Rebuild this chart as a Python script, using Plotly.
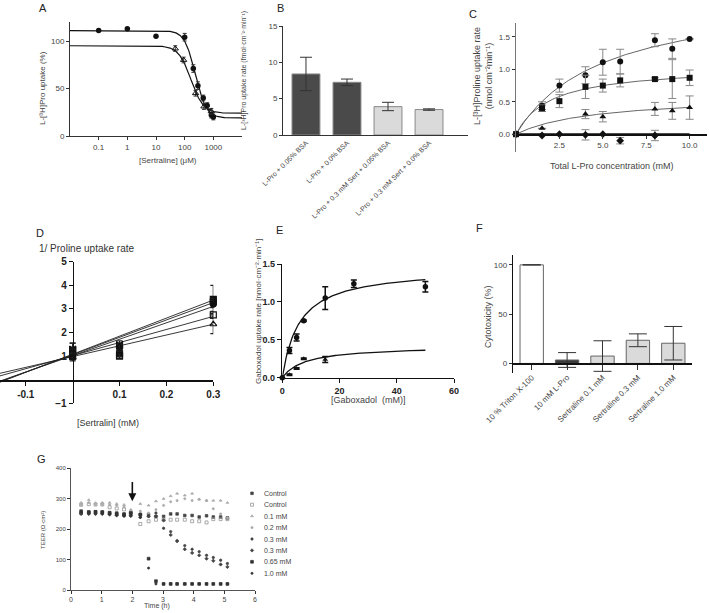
import plotly.graph_objects as go
import numpy as np

W, H = 709, 613
FONT = "Arial, Liberation Sans, sans-serif"
TXT = "#444"

# ---------------- Panel A data ----------------
a_circ_x = [0.1, 1, 10, 100, 200, 290, 445, 610, 850, 1000]
a_circ_y = [111, 113, 105, 104, 71, 53, 40, 32, 22, 20]
a_circ_err = [0, 0, 0, 4, 4, 4, 3, 3, 3, 3]
a_tri_x = [47, 92, 240, 470, 850]
a_tri_y = [92, 80, 45, 31, 26]
a_tri_err = [3, 3, 3, 3, 3]
a_fit_circ = {"top": 111, "bottom": 19, "ic50": 235, "hill": 2.3}
a_fit_tri = {"top": 95, "bottom": 24, "ic50": 165, "hill": 2.0}

# ---------------- Panel B data ----------------
b_labels = ["L-Pro + 0.05% BSA", "L-Pro + 0.0% BSA",
            "L-Pro + 0.3 mM Sert + 0.05% BSA", "L-Pro + 0.3 mM Sert + 0.0% BSA"]
b_values = [8.4, 7.25, 3.9, 3.5]
b_err_up = [2.3, 0.45, 0.6, 0.1]
b_err_dn = [2.3, 0.45, 0.55, 0.1]

# ---------------- Panel C data ----------------
c_x = [0, 1.5, 2.5, 4, 5, 6, 8, 9, 10]
c_circ = [0, 0.44, 0.75, 0.91, 1.11, 1.12, 1.45, 1.32, 1.47]
c_circ_err = [0, 0.06, 0.1, 0.13, 0.2, 0.19, 0.1, 0.15, 0]
c_sq = [0, 0.40, 0.51, 0.73, 0.75, 0.83, 0.85, 0.85, 0.87]
c_sq_err = [0, 0.05, 0.1, 0.18, 0.1, 0.1, 0.02, 0.3, 0.12]
c_tri_x = [0, 1.5, 4, 5, 8, 9, 10]
c_tri = [0, 0.09, 0.31, 0.27, 0.39, 0.36, 0.41]
c_tri_err = [0, 0, 0.07, 0.08, 0.1, 0.13, 0.18]
c_dia_x = [0, 1.5, 2.5, 4, 5, 6, 8]
c_dia = [0, -0.02, 0, -0.01, 0, -0.1, -0.02]
c_dia_err = [0, 0, 0, 0.08, 0, 0.05, 0.08]
c_fit_circ = {"vmax": 2.2, "km": 5.0}
c_fit_sq = {"vmax": 1.05, "km": 2.0}
c_fit_tri = {"vmax": 0.6, "km": 4.5}

# ---------------- Panel D data ----------------
d_x = [0, 0.1, 0.3]
d_series = {
    "square": ([1.25, 1.1, 3.4], [0.3, 0.2, 0.6]),
    "bowtie": ([1.3, 1.5, 3.3], [0.25, 0.15, 0.15]),
    "circle": ([1.1, 1.35, 3.2], [0.2, 0.15, 0.15]),
    "square-open": ([1.0, 1.0, 2.75], [0.15, 0.1, 0.15]),
    "triangle-up-open": ([0.95, 1.4, 2.35], [0.15, 0.1, 0.4]),
}
d_intercepts = [1.08, 1.06, 1.02, 1.02, 0.98]
d_slopes = [7.65, 7.36, 6.95, 5.54, 4.57]

# ---------------- Panel E data ----------------
e_circ_x = [0, 2.5, 5, 7.5, 15, 25, 50]
e_circ_y = [0, 0.36, 0.53, 0.75, 1.05, 1.24, 1.2]
e_circ_err = [0, 0.04, 0.045, 0.01, 0.15, 0.05, 0.07]
e_tri_x = [2.5, 5, 7.5, 15]
e_tri_y = [0.04, 0.12, 0.25, 0.24]
e_tri_err = [0.01, 0.01, 0.01, 0.04]
e_fit_circ = {"vmax": 1.45, "km": 6.0}
e_fit_tri = {"vmax": 0.42, "km": 8.0}

# ---------------- Panel F data ----------------
f_labels = ["10 % Triton X-100", "10 mM L-Pro", "Sertraline 0.1 mM",
            "Sertraline 0.3 mM", "Sertraline 1.0 mM"]
f_values = [100, 3.5, 7.5, 23.5, 20.5]
f_err = [0, 7.5, 15.5, 6.5, 17]

# ---------------- Panel G data ----------------
g_time = [0.33, 0.58, 0.8, 1.02, 1.26, 1.49, 1.73, 1.95, 2.26, 2.53, 2.77,
          3.02, 3.25, 3.46, 3.71, 3.95, 4.18, 4.42, 4.64, 4.88, 5.1]
g_names = ["Control", "Control", "0.1 mM", "0.2 mM", "0.3 mM", "0.3 mM", "0.65 mM", "1.0 mM"]
g_ctrl1 = [253, 256, 257, 256, 253, 253, 250, 253, 248, 248, 242, 242, 250, 250, 245, 245, 240, 244, 240, 240, 237]
g_ctrl2 = [280, 282, 281, 281, 272, 268, 265, 253, 217, 226, 231, 231, 231, 231, 231, 226, 226, 222, 233, 233, 233]
g_01 = [287, 296, 286, 287, 287, 283, 280, 264, 283, 278, 292, 300, 309, 317, 311, 317, 298, 294, 294, 294, 287]
g_02 = [280, 287, 281, 281, 280, 278, 273, 260, 259, 253, 264, 278, 290, 294, 300, 294, 298, 294, 267, 250, 237]
g_03a = [253, 253, 252, 252, 250, 248, 245, 244, 248, 242, 253, 203, 192, 161, 146, 134, 126, 114, 107, 98, 87]
g_03b = [250, 250, 250, 250, 248, 245, 243, 244, 239, 242, 242, 229, 181, 161, 134, 122, 114, 103, 96, 84, 76]
g_065 = [259, 256, 257, 256, 254, 250, 248, 253, 248, 103, 29, 20, 20, 20, 20, 20, 20, 20, 20, 20, 20]
g_10 = [256, 253, 252, 252, 250, 247, 245, 244, 239, 72, 20, 20, 20, 20, 20, 20, 20, 20, 20, 20, 20]
g_arrow_time = 2
g_series = [g_ctrl1, g_ctrl2, g_01, g_02, g_03a, g_03b, g_065, g_10]
g_symbols = ["square", "square-open", "triangle-up", "circle", "circle", "diamond", "square", "circle"]
g_colors = ["#444", "#888", "#aaa", "#aaa", "#444", "#444", "#333", "#333"]
g_sizes = [2.6, 3, 2.6, 2.2, 2.4, 2.6, 2.8, 2.2]


def hill(x, p):
    x = np.asarray(x, float)
    return p["bottom"] + (p["top"] - p["bottom"]) / (1 + (x / p["ic50"]) ** p["hill"])


def mm(x, p):
    x = np.asarray(x, float)
    return p["vmax"] * x / (p["km"] + x)


def dx(a, b):
    return [a / W, b / W]


def dy(top, bot):
    return [1 - bot / H, 1 - top / H]


def axis(**kw):
    base = dict(showline=True, linecolor="#333", linewidth=1, ticks="outside",
                ticklen=3, tickcolor="#333", showgrid=False, zeroline=False, automargin=False,
                tickfont=dict(size=8, color=TXT, family=FONT))
    base.update(kw)
    return base


fig = go.Figure()

# ---- A ----
xs = np.logspace(-2, 4, 300)
fig.add_trace(go.Scatter(x=xs, y=hill(xs, a_fit_circ), mode="lines",
                         line=dict(color="#111", width=1.2), xaxis="x", yaxis="y"))
fig.add_trace(go.Scatter(x=xs, y=hill(xs, a_fit_tri), mode="lines",
                         line=dict(color="#111", width=1.2), xaxis="x", yaxis="y"))
fig.add_trace(go.Scatter(x=a_circ_x, y=a_circ_y, mode="markers",
                         error_y=dict(type="data", array=a_circ_err, color="#333", thickness=1, width=2),
                         marker=dict(symbol="circle", size=5.5, color="#111"), xaxis="x", yaxis="y"))
fig.add_trace(go.Scatter(x=a_tri_x, y=a_tri_y, mode="markers",
                         error_y=dict(type="data", array=a_tri_err, color="#333", thickness=1, width=2),
                         marker=dict(symbol="triangle-up-open", size=5.5, color="#111",
                                     line=dict(width=1)), xaxis="x", yaxis="y"))

# ---- B ----
fig.add_trace(go.Bar(x=list(range(4)), y=b_values, width=0.68,
                     marker=dict(color=["#4a4a4a", "#4a4a4a", "#dadada", "#dadada"],
                                 line=dict(color="#888", width=1)),
                     error_y=dict(type="data", symmetric=False, array=b_err_up, arrayminus=b_err_dn,
                                  color="#333", thickness=1, width=6),
                     xaxis="x2", yaxis="y2"))

# ---- C ----
xc = np.linspace(0, 10, 100)
for p in (c_fit_circ, c_fit_sq, c_fit_tri):
    fig.add_trace(go.Scatter(x=xc, y=mm(xc, p), mode="lines",
                             line=dict(color="#666", width=1), xaxis="x3", yaxis="y3"))
fig.add_trace(go.Scatter(x=[0, 10], y=[0, 0], mode="lines", line=dict(color="#111", width=2),
                         xaxis="x3", yaxis="y3"))
for xv, yv, ev, sym in ((c_x, c_circ, c_circ_err, "circle"), (c_x, c_sq, c_sq_err, "square"),
                        (c_tri_x, c_tri, c_tri_err, "triangle-up"), (c_dia_x, c_dia, c_dia_err, "diamond")):
    fig.add_trace(go.Scatter(x=xv, y=yv, mode="markers", cliponaxis=False,
                             error_y=dict(type="data", array=ev, color="#888", thickness=1, width=4),
                             marker=dict(symbol=sym, size=6, color="#111"), xaxis="x3", yaxis="y3"))

# ---- D ----
xl = np.array([-0.155, 0.3])
for b0, m in zip(d_intercepts, d_slopes):
    fig.add_trace(go.Scatter(x=xl, y=b0 + m * xl, mode="lines", line=dict(color="#222", width=0.9),
                             xaxis="x4", yaxis="y4"))
for sym, (yv, ev) in d_series.items():
    fig.add_trace(go.Scatter(x=d_x, y=yv, mode="markers", cliponaxis=False,
                             error_y=dict(type="data", array=ev, color="#222", thickness=1.2, width=3),
                             marker=dict(symbol=sym, size=6, color="#111", line=dict(width=1.2, color="#111")),
                             xaxis="x4", yaxis="y4"))

# ---- E ----
xe = np.linspace(0, 50, 150)
for p in (e_fit_circ, e_fit_tri):
    fig.add_trace(go.Scatter(x=xe, y=mm(xe, p), mode="lines", line=dict(color="#111", width=1.3),
                             xaxis="x5", yaxis="y5"))
fig.add_trace(go.Scatter(x=e_circ_x, y=e_circ_y, mode="markers", cliponaxis=False,
                         error_y=dict(type="data", array=e_circ_err, color="#111", thickness=1.5, width=3),
                         marker=dict(symbol="circle", size=5.5, color="#111"), xaxis="x5", yaxis="y5"))
fig.add_trace(go.Scatter(x=e_tri_x, y=e_tri_y, mode="markers", cliponaxis=False,
                         error_y=dict(type="data", array=e_tri_err, color="#111", thickness=1.5, width=3),
                         marker=dict(symbol="triangle-up", size=5, color="#111"), xaxis="x5", yaxis="y5"))

# ---- F ----
fig.add_trace(go.Bar(x=list(range(5)), y=f_values, width=0.66,
                     marker=dict(color=["#ffffff", "#3a3a3a", "#dadada", "#dadada", "#dadada"],
                                 line=dict(color="#666", width=1)),
                     error_y=dict(type="data", array=f_err, color="#333", thickness=1, width=9),
                     xaxis="x6", yaxis="y6"))

# ---- G ----
for name, ys, sym, col, sz in zip(g_names, g_series, g_symbols, g_colors, g_sizes):
    fig.add_trace(go.Scatter(x=g_time, y=ys, mode="markers", name=name,
                             marker=dict(symbol=sym, size=sz, color=col, line=dict(width=0.7, color=col)),
                             xaxis="x7", yaxis="y7"))
# legend for G (hidden axis with pixel-like coordinates)
leg_y = [493.3, 504.7, 516.1, 527.6, 539.0, 550.4, 561.8, 573.3]
for yy, sym, col, sz in zip(leg_y, g_symbols, g_colors, g_sizes):
    fig.add_trace(go.Scatter(x=[252], y=[yy], mode="markers",
                             marker=dict(symbol=sym, size=sz, color=col, line=dict(width=0.7, color=col)),
                             xaxis="x8", yaxis="y8"))

layout_axes = dict(
    xaxis=axis(domain=dx(70, 242), type="log", range=[-2, 4],
               tickvals=[0.1, 1, 10, 100, 1000], ticktext=["0.1", "1", "10", "100", "1000"], anchor="y"),
    yaxis=axis(domain=dy(22, 136), range=[0, 120], tickvals=[0, 50, 100], anchor="x"),
    xaxis2=axis(domain=dx(283, 468), range=[-0.56, 3.95], tickvals=list(range(4)), ticktext=b_labels,
                tickangle=-45, ticks="", tickfont=dict(size=7, color=TXT, family=FONT), anchor="y2"),
    yaxis2=axis(domain=dy(26, 135), range=[0, 15], tickvals=[0, 5, 10, 15], anchor="x2"),
    xaxis3=axis(domain=dx(516, 707), range=[0, 11], tickvals=[2.5, 5, 7.5, 10],
                ticktext=["2.5", "5.0", "7.5", "10.0"], anchor="free", position=1 - 134.2 / H,
                linewidth=1.5, linecolor="#111"),
    yaxis3=axis(domain=dy(22.7, 151.7), range=[-0.27, 1.72], tickvals=[0, 0.5, 1.0, 1.5],
                ticktext=["0.0", "0.5", "1.0", "1.5"], anchor="x3", linecolor="#777", linewidth=1.5),
    xaxis4=axis(domain=dx(0, 213.3), range=[-0.155, 0.3], tickvals=[-0.1, 0.1, 0.2, 0.3],
                ticktext=["-0.1", "0.1", "0.2", "0.3"], anchor="free", position=1 - 380 / H,
                linewidth=1.5, linecolor="#111", tickcolor="#111", ticklen=4,
                tickfont=dict(size=10, color="#222", family=FONT, weight="bold")),
    yaxis4=axis(domain=dy(261.7, 403.3), range=[-1, 5], tickvals=[-1, 1, 2, 3, 4, 5],
                anchor="free", position=72.7 / W, linewidth=1.5, linecolor="#111", tickcolor="#111",
                ticklen=4, tickfont=dict(size=10, color="#222", family=FONT, weight="bold")),
    xaxis5=axis(domain=dx(282.3, 454), range=[0, 60], tickvals=[0, 20, 40, 60], anchor="y5",
                linewidth=1.5, linecolor="#111", tickcolor="#111", ticklen=4,
                tickfont=dict(size=9, color="#222", family=FONT, weight="bold")),
    yaxis5=axis(domain=dy(264, 377.7), range=[0, 1.5], tickvals=[0, 0.5, 1.0, 1.5],
                ticktext=["0.0", "0.5", "1.0", "1.5"], anchor="x5", linewidth=1.5, linecolor="#111",
                tickcolor="#111", ticklen=4, tickfont=dict(size=9, color="#222", family=FONT, weight="bold")),
    xaxis6=axis(domain=dx(513.3, 691.7), range=[-0.52, 4.52], tickvals=list(range(5)), ticktext=f_labels,
                tickangle=-45, anchor="free", position=1 - 363.3 / H, ticklen=5, linewidth=1.5,
                linecolor="#111", tickfont=dict(size=8, color=TXT, family=FONT)),
    yaxis6=axis(domain=dy(255, 373.3), range=[-10, 110], tickvals=[0, 50, 100], anchor="x6",
                linewidth=1.5, linecolor="#111"),
    xaxis7=axis(domain=dx(71, 255), range=[0, 6], tickvals=list(range(7)), anchor="y7",
                tickfont=dict(size=7, color=TXT, family=FONT), linecolor="#555"),
    yaxis7=axis(domain=dy(468.3, 590), range=[0, 400], tickvals=[0, 100, 200, 300, 400], anchor="x7",
                tickfont=dict(size=6, color=TXT, family=FONT), linecolor="#555"),
    xaxis8=dict(domain=dx(240, 300), range=[240, 300], visible=False, anchor="y8", automargin=False),
    yaxis8=dict(domain=dy(480, 590), range=[590, 480], visible=False, anchor="x8", automargin=False),
)

annotations = []


def txt(x, y, s, size=8, angle=0, color=TXT, xanchor="center", **kw):
    annotations.append(dict(x=x / W, y=1 - y / H, xref="paper", yref="paper", text=s, showarrow=False,
                            textangle=angle, xanchor=xanchor, yanchor="middle",
                            font=dict(size=size, color=color, family=FONT), **kw))


# panel letters
for L, x, y in (("A", 43, 8), ("B", 280, 8), ("C", 473, 14), ("D", 40, 233),
                ("E", 279, 230), ("F", 480, 228), ("G", 41, 459)):
    txt(x, y, L, size=11, color="#222")

txt(43, 88, "L-[\u00b3H]Pro uptake (%)", size=8, angle=-90)
txt(168, 160, "[Sertraline] (\u03bcM)", size=8)
txt(244, 71, "L-[\u00b3H]Pro uptake rate (fmol\u00b7cm\u207b\u00b2\u00b7min\u207b\u00b9)", size=7, angle=-90)
txt(483, 76, "L-[\u00b3H]Proline uptake rate<br>(nmol cm\u207b\u00b2min\u207b\u00b9)", size=9, angle=-90)
txt(612, 166, "Total L-Pro concentration (mM)", size=9)
txt(86, 249, "1/ Proline uptake rate", size=10, color="#333")
txt(108, 423, "[Sertralin] (mM)", size=9, color="#333")
txt(258, 312, "Gaboxadol uptake rate [nmol\u00b7cm\u207b\u00b2\u00b7min\u207b\u00b9]", size=8, angle=-90)
txt(368, 400, "[Gaboxadol  (mM)]", size=9)
txt(488, 317, "Cytotoxicity (%)", size=9, angle=-90)
txt(43, 530, "TEER (\u03a9\u00b7cm\u00b2)", size=6, angle=-90)
txt(157, 606, "Time (h)", size=7)
for yy, nm in zip(leg_y, g_names):
    txt(262, yy, nm, size=7, xanchor="left")

# arrow in G
annotations.append(dict(x=g_arrow_time, y=292, ax=g_arrow_time, ay=360, xref="x7", yref="y7",
                        axref="x7", ayref="y7", text="", showarrow=True, arrowhead=2,
                        arrowsize=1, arrowwidth=1.6, arrowcolor="#111"))

fig.update_layout(
    template="none",
    width=W, height=H, margin=dict(l=0, r=0, t=0, b=0, pad=0), autosize=False,
    paper_bgcolor="white", plot_bgcolor="white", showlegend=False,
    font=dict(family=FONT, color=TXT), bargap=0.3,
    annotations=annotations, **layout_axes,
)

fig.write_html("out.html", config={"displayModeBar": False, "staticPlot": True},
               post_script="document.body.style.margin='0';document.body.style.overflow='hidden';")
